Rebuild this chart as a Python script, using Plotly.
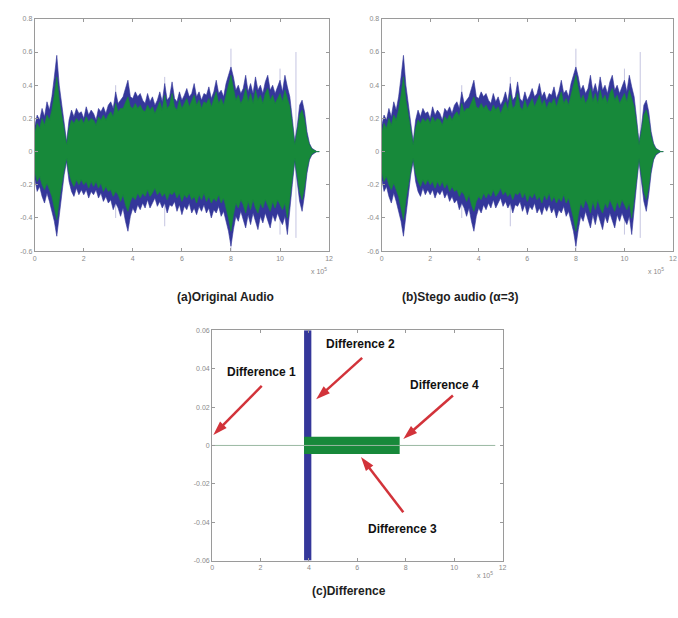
import plotly.graph_objects as go

# ---------------- data ----------------
t = [0.0, 0.1, 0.2, 0.3, 0.4, 0.5, 0.6, 0.7, 0.8, 0.9, 1.0, 1.1, 1.2, 1.3, 1.4, 1.5, 1.6, 1.7, 1.8, 1.9,
     2.0, 2.1, 2.2, 2.3, 2.4, 2.5, 2.6, 2.7, 2.8, 2.9, 3.0, 3.1, 3.2, 3.3, 3.4, 3.5, 3.6, 3.7, 3.8, 3.9,
     4.0, 4.1, 4.2, 4.3, 4.4, 4.5, 4.6, 4.7, 4.8, 4.9, 5.0, 5.1, 5.2, 5.3, 5.4, 5.5, 5.6, 5.7, 5.8, 5.9,
     6.0, 6.1, 6.2, 6.3, 6.4, 6.5, 6.6, 6.7, 6.8, 6.9, 7.0, 7.1, 7.2, 7.3, 7.4, 7.5, 7.6, 7.7, 7.8, 7.9,
     8.0, 8.1, 8.2, 8.3, 8.4, 8.5, 8.6, 8.7, 8.8, 8.9, 9.0, 9.1, 9.2, 9.3, 9.4, 9.5, 9.6, 9.7, 9.8, 9.9,
     10.0, 10.1, 10.2, 10.3, 10.4, 10.5, 10.6, 10.7, 10.8, 10.9, 11.0, 11.1, 11.2, 11.3, 11.4, 11.5, 11.6]

blue_upper = [0.15, 0.22, 0.19, 0.26, 0.21, 0.30, 0.25, 0.33, 0.45, 0.58, 0.40, 0.28, 0.15, 0.06, 0.19, 0.25, 0.21, 0.26, 0.23, 0.24,
              0.20, 0.27, 0.22, 0.25, 0.23, 0.19, 0.26, 0.24, 0.27, 0.23, 0.28, 0.30, 0.26, 0.36, 0.29, 0.31, 0.33, 0.38, 0.43, 0.33,
              0.32, 0.36, 0.33, 0.35, 0.31, 0.29, 0.35, 0.30, 0.33, 0.28, 0.31, 0.36, 0.30, 0.41, 0.31, 0.33, 0.42, 0.32, 0.30, 0.36,
              0.31, 0.34, 0.38, 0.33, 0.35, 0.41, 0.33, 0.36, 0.31, 0.35, 0.34, 0.39, 0.32, 0.36, 0.43, 0.35, 0.37, 0.33, 0.41, 0.46,
              0.51, 0.45, 0.37, 0.40, 0.35, 0.38, 0.46, 0.36, 0.41, 0.35, 0.45, 0.37, 0.40, 0.35, 0.42, 0.46, 0.37, 0.40, 0.35, 0.39,
              0.43, 0.36, 0.46, 0.39, 0.33, 0.20, 0.06, 0.15, 0.28, 0.31, 0.24, 0.12, 0.05, 0.02, 0.01, 0.0, 0.0]

blue_lower = [-0.16, -0.24, -0.21, -0.27, -0.31, -0.25, -0.30, -0.35, -0.42, -0.51, -0.38, -0.26, -0.14, -0.06, -0.18, -0.24, -0.27, -0.22, -0.26, -0.23,
              -0.26, -0.23, -0.28, -0.24, -0.26, -0.23, -0.28, -0.25, -0.30, -0.27, -0.31, -0.29, -0.35, -0.31, -0.34, -0.39, -0.34, -0.42, -0.48, -0.39,
              -0.34, -0.37, -0.32, -0.35, -0.31, -0.34, -0.29, -0.34, -0.31, -0.28, -0.33, -0.30, -0.34, -0.31, -0.37, -0.32, -0.33, -0.30, -0.36, -0.32,
              -0.38, -0.33, -0.35, -0.31, -0.37, -0.34, -0.38, -0.33, -0.36, -0.32, -0.37, -0.34, -0.40, -0.35, -0.37, -0.33, -0.39, -0.36, -0.42, -0.48,
              -0.57, -0.47, -0.39, -0.42, -0.36, -0.41, -0.46, -0.38, -0.44, -0.37, -0.42, -0.47, -0.39, -0.43, -0.37, -0.41, -0.46, -0.38, -0.42, -0.37,
              -0.41, -0.44, -0.39, -0.50, -0.35, -0.20, -0.06, -0.16, -0.30, -0.36, -0.26, -0.13, -0.05, -0.02, -0.01, 0.0, 0.0]

green_upper = [0.11, 0.17, 0.14, 0.20, 0.16, 0.22, 0.19, 0.25, 0.34, 0.45, 0.31, 0.21, 0.11, 0.04, 0.14, 0.19, 0.17, 0.20, 0.18, 0.20,
               0.17, 0.21, 0.18, 0.20, 0.19, 0.16, 0.21, 0.19, 0.22, 0.19, 0.22, 0.24, 0.21, 0.29, 0.24, 0.26, 0.26, 0.30, 0.33, 0.27,
               0.26, 0.29, 0.26, 0.28, 0.25, 0.24, 0.28, 0.25, 0.27, 0.23, 0.26, 0.30, 0.25, 0.34, 0.26, 0.28, 0.35, 0.27, 0.25, 0.31,
               0.26, 0.29, 0.32, 0.27, 0.30, 0.34, 0.28, 0.31, 0.26, 0.30, 0.29, 0.32, 0.27, 0.31, 0.36, 0.29, 0.32, 0.28, 0.34, 0.40,
               0.46, 0.38, 0.31, 0.34, 0.29, 0.32, 0.38, 0.30, 0.35, 0.29, 0.37, 0.31, 0.34, 0.29, 0.35, 0.38, 0.31, 0.34, 0.29, 0.32,
               0.35, 0.30, 0.37, 0.32, 0.27, 0.16, 0.04, 0.12, 0.22, 0.25, 0.19, 0.09, 0.04, 0.015, 0.005, 0.0, 0.0]

green_lower = [-0.12, -0.18, -0.15, -0.20, -0.23, -0.19, -0.23, -0.27, -0.33, -0.41, -0.29, -0.20, -0.11, -0.04, -0.13, -0.18, -0.21, -0.17, -0.20, -0.17,
               -0.20, -0.18, -0.22, -0.18, -0.21, -0.18, -0.22, -0.19, -0.24, -0.21, -0.24, -0.23, -0.27, -0.24, -0.26, -0.30, -0.26, -0.32, -0.36, -0.30,
               -0.27, -0.29, -0.25, -0.28, -0.25, -0.27, -0.23, -0.27, -0.25, -0.22, -0.26, -0.24, -0.27, -0.25, -0.29, -0.25, -0.26, -0.24, -0.28, -0.25,
               -0.30, -0.26, -0.28, -0.25, -0.29, -0.27, -0.31, -0.26, -0.29, -0.25, -0.30, -0.27, -0.31, -0.28, -0.30, -0.26, -0.31, -0.28, -0.34, -0.40,
               -0.48, -0.38, -0.31, -0.34, -0.29, -0.32, -0.37, -0.30, -0.35, -0.29, -0.34, -0.37, -0.31, -0.34, -0.29, -0.33, -0.36, -0.30, -0.34, -0.29,
               -0.32, -0.35, -0.31, -0.40, -0.28, -0.16, -0.04, -0.13, -0.24, -0.29, -0.21, -0.10, -0.04, -0.015, -0.005, 0.0, 0.0]

# faint isolated sample spikes
spike_x = [3.3, 5.3, 8.0, 10.0, 10.65]
spike_top = [0.40, 0.45, 0.62, 0.50, 0.60]
spike_bot = [-0.40, -0.45, -0.60, -0.50, -0.52]

# difference plot
diff_vbar_x = [3.95]
diff_vbar_base = [-0.06]
diff_vbar_len = [0.12]
diff_vbar_width = [0.3]
diff_hbar_y = [0.0]
diff_hbar_base = [3.8]
diff_hbar_len = [3.95]
diff_hbar_width = [0.009]
zero_line_x = [0.0, 11.7]
zero_line_y = [0.0, 0.0]

wave_xticks = [0, 2, 4, 6, 8, 10, 12]
wave_yticks = [0.8, 0.6, 0.4, 0.2, 0, -0.2, -0.4, -0.6]
wave_yticktext = ["0.8", "0.6", "0.4", "0.2", "0", "-0.2", "-0.4", "-0.6"]
diff_yticks = [0.06, 0.04, 0.02, 0, -0.02, -0.04, -0.06]
diff_yticktext = ["0.06", "0.04", "0.02", "0", "-0.02", "-0.04", "-0.06"]

labels = ["Difference 1", "Difference 2", "Difference 3", "Difference 4"]
label_x = [2.05, 6.15, 7.85, 9.6]
label_y = [0.0385, 0.053, -0.0435, 0.0317]
arrow_tail_x = [2.05, 6.2, 7.9, 9.95]
arrow_tail_y = [0.031, 0.0456, -0.0348, 0.026]
arrow_head_x = [0.05, 4.3, 6.15, 7.9]
arrow_head_y = [0.0055, 0.024, -0.006, 0.0034]

BLUE = "#34379a"
GREEN = "#17893a"
RED = "#d2333a"
W, H = 678, 618

fig = go.Figure()

for ax in ["", "2"]:
    xa, ya = "x" + ax, "y" + ax
    sx, sy = [], []
    for xv, tp, bt in zip(spike_x, spike_top, spike_bot):
        sx += [xv, xv, None]
        sy += [bt, tp, None]
    fig.add_trace(go.Scatter(x=sx, y=sy, mode="lines", line=dict(color="rgba(150,150,200,0.55)", width=1),
                             xaxis=xa, yaxis=ya, showlegend=False, hoverinfo="skip"))
    fig.add_trace(go.Scatter(x=t + t[::-1], y=blue_upper + blue_lower[::-1], fill="toself", mode="lines",
                             line=dict(color=BLUE, width=0.6), fillcolor=BLUE,
                             xaxis=xa, yaxis=ya, showlegend=False, hoverinfo="skip"))
    fig.add_trace(go.Scatter(x=t + t[::-1], y=green_upper + green_lower[::-1], fill="toself", mode="lines",
                             line=dict(color=GREEN, width=0.6), fillcolor=GREEN,
                             xaxis=xa, yaxis=ya, showlegend=False, hoverinfo="skip"))

fig.add_trace(go.Scatter(x=zero_line_x, y=zero_line_y, mode="lines", line=dict(color="#9ab8a2", width=1),
                         xaxis="x3", yaxis="y3", showlegend=False, hoverinfo="skip"))
fig.add_trace(go.Bar(x=diff_vbar_x, y=diff_vbar_len, base=diff_vbar_base, width=diff_vbar_width,
                     marker=dict(color=BLUE, line=dict(width=0)), xaxis="x3", yaxis="y3", showlegend=False))
fig.add_trace(go.Bar(y=diff_hbar_y, x=diff_hbar_len, base=diff_hbar_base, width=diff_hbar_width, orientation="h",
                     marker=dict(color=GREEN, line=dict(width=0)), xaxis="x3", yaxis="y3", showlegend=False))

# red arrows drawn as line + arrow-head marker
for hx, hy, tx, ty in zip(arrow_head_x, arrow_head_y, arrow_tail_x, arrow_tail_y):
    fig.add_trace(go.Scatter(x=[tx, hx], y=[ty, hy], mode="lines+markers",
                             line=dict(color=RED, width=2.5),
                             marker=dict(symbol="arrow", angleref="previous", size=[0, 15], color=RED,
                                         opacity=1, line=dict(width=0, color=RED)),
                             xaxis="x3", yaxis="y3", showlegend=False, hoverinfo="skip"))

axis_common = dict(showgrid=False, zeroline=False, showline=True, linecolor="#9a9a9a", linewidth=1,
                   mirror="ticks", ticks="inside", ticklen=3, tickcolor="#9a9a9a",
                   tickfont=dict(size=7, color="#8a8a8a", family="Liberation Sans"))


def px_x(p):
    return p / W


def px_y(p):
    return 1 - p / H


fig.update_layout(
    width=W, height=H, margin=dict(l=0, r=0, t=0, b=0),
    paper_bgcolor="white", plot_bgcolor="white", barmode="overlay",
    xaxis=dict(domain=[px_x(33), px_x(330)], range=[0, 12], tickvals=wave_xticks, anchor="y", **axis_common),
    yaxis=dict(domain=[px_y(250), px_y(15)], range=[-0.6, 0.8], tickvals=wave_yticks, ticktext=wave_yticktext,
               anchor="x", **axis_common),
    xaxis2=dict(domain=[px_x(383), px_x(677)], range=[0, 12], tickvals=wave_xticks, anchor="y2", **axis_common),
    yaxis2=dict(domain=[px_y(250), px_y(15)], range=[-0.6, 0.8], tickvals=wave_yticks, ticktext=wave_yticktext,
                anchor="x2", **axis_common),
    xaxis3=dict(domain=[px_x(212), px_x(505)], range=[0, 12], tickvals=wave_xticks, anchor="y3", **axis_common),
    yaxis3=dict(domain=[px_y(563), px_y(330)], range=[-0.06, 0.06], tickvals=diff_yticks, ticktext=diff_yticktext,
                anchor="x3", **axis_common),
)

ann = []
cap_font = dict(size=12, color="#1e1e1e", family="Liberation Sans")
ann.append(dict(x=px_x(175), y=px_y(296), xref="paper", yref="paper", text="<b>(a)Original Audio</b>",
                showarrow=False, font=cap_font))
ann.append(dict(x=px_x(523), y=px_y(296), xref="paper", yref="paper", text="<b>(b)Stego audio (α=3)</b>",
                showarrow=False, font=cap_font))
ann.append(dict(x=px_x(350), y=px_y(603), xref="paper", yref="paper", text="<b>(c)Difference</b>",
                showarrow=False, font=cap_font))
exp_font = dict(size=7, color="#8a8a8a", family="Liberation Sans")
for xp, yp in [(320, 270), (670, 270), (497, 584)]:
    ann.append(dict(x=px_x(xp), y=px_y(yp), xref="paper", yref="paper", text="x 10<sup>5</sup>",
                    showarrow=False, font=exp_font))

for lab, lx, ly in zip(labels, label_x, label_y):
    ann.append(dict(x=lx, y=ly, xref="x3", yref="y3", text="<b>" + lab + "</b>", showarrow=False,
                    font=dict(size=12, color="#111111", family="Liberation Sans")))

fig.update_layout(annotations=ann)
fig.write_html("out.html")
